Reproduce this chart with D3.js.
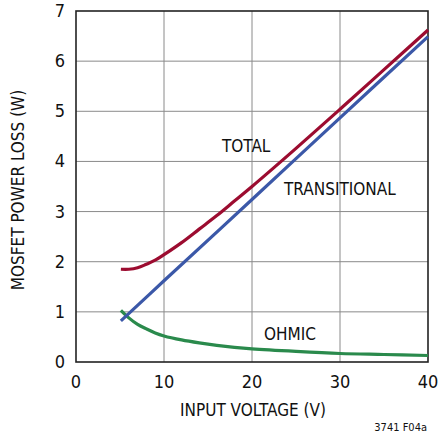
<!DOCTYPE html>
<meta charset="utf-8">
<style>
body { margin: 0; background: #fff; }
svg text {
  font-family: "Liberation Sans Narrow", "DejaVu Sans Condensed", "Arial Narrow", sans-serif;
  fill: #111;
}
.grid line { stroke: #8a8a8a; stroke-width: 1; }
</style>
<svg width="438" height="437"></svg>
<script src="https://d3js.org/d3.v7.min.js"></script>
<script>

// values
var voltage      = [5.1, 6, 7, 8, 9, 10, 12, 14, 16, 18, 20, 25, 30, 35, 40];
var totalLoss    = [1.85, 1.85, 1.88, 1.95, 2.03, 2.14, 2.38, 2.65, 2.92, 3.21, 3.50, 4.26, 5.04, 5.83, 6.62];
var ohmicLoss    = [1.03, 0.88, 0.75, 0.66, 0.58, 0.52, 0.44, 0.38, 0.33, 0.29, 0.26, 0.21, 0.17, 0.15, 0.13];
var transVoltage = [5.1, 10, 20, 30, 40];
var transLoss    = [0.82, 1.62, 3.24, 4.87, 6.49];

var xTicks = [0, 10, 20, 30, 40];
var yTicks = [0, 1, 2, 3, 4, 5, 6, 7];

var svg = d3.select("svg");
var pLeft = 76, pRight = 428, pTop = 11, pBottom = 362;

var x = d3.scaleLinear().domain([0, 40]).range([pLeft, pRight]);
var y = d3.scaleLinear().domain([0, 7]).range([pBottom, pTop]);

var grid = svg.append("g").attr("class", "grid");
grid.selectAll(".v").data(xTicks.slice(1, -1)).enter().append("line")
    .attr("x1", d => x(d)).attr("x2", d => x(d))
    .attr("y1", pTop).attr("y2", pBottom);
grid.selectAll(".h").data(yTicks.slice(1, -1)).enter().append("line")
    .attr("x1", pLeft).attr("x2", pRight)
    .attr("y1", d => y(d)).attr("y2", d => y(d));

svg.append("rect")
    .attr("x", pLeft).attr("y", pTop)
    .attr("width", pRight - pLeft).attr("height", pBottom - pTop)
    .attr("fill", "none").attr("stroke", "#222").attr("stroke-width", 1.6);

// tick labels
svg.selectAll(".xl").data(xTicks).enter().append("text")
    .attr("x", d => x(d)).attr("y", 388)
    .attr("text-anchor", "middle").attr("font-size", 18)
    .text(d => d);
svg.selectAll(".yl").data(yTicks).enter().append("text")
    .attr("x", 65).attr("y", d => y(d) + 6)
    .attr("text-anchor", "end").attr("font-size", 18)
    .text(d => d);

// axis titles
svg.append("text")
    .attr("x", 253).attr("y", 416)
    .attr("text-anchor", "middle").attr("font-size", 17)
    .text("INPUT VOLTAGE (V)");
svg.append("text")
    .attr("transform", "translate(24,190) rotate(-90)")
    .attr("text-anchor", "middle").attr("font-size", 17)
    .text("MOSFET POWER LOSS (W)");
svg.append("text")
    .attr("x", 427).attr("y", 431)
    .attr("text-anchor", "end").attr("font-size", 11)
    .text("3741 F04a");

var line = d3.line()
    .x(d => x(d[0])).y(d => y(d[1]))
    .curve(d3.curveCatmullRom.alpha(0.5));

function draw(xs, ys, color) {
  svg.append("path")
      .datum(d3.zip(xs, ys))
      .attr("d", line)
      .attr("fill", "none")
      .attr("stroke", color)
      .attr("stroke-width", 3.2);
}
draw(voltage, ohmicLoss, "#2a8a4c");
draw(transVoltage, transLoss, "#3b58a8");
draw(voltage, totalLoss, "#9c0c30");

// series labels
svg.append("text").attr("x", 222).attr("y", 152).attr("font-size", 17).text("TOTAL");
svg.append("text").attr("x", 284).attr("y", 195).attr("font-size", 17).text("TRANSITIONAL");
svg.append("text").attr("x", 264).attr("y", 340).attr("font-size", 17).text("OHMIC");

</script>
